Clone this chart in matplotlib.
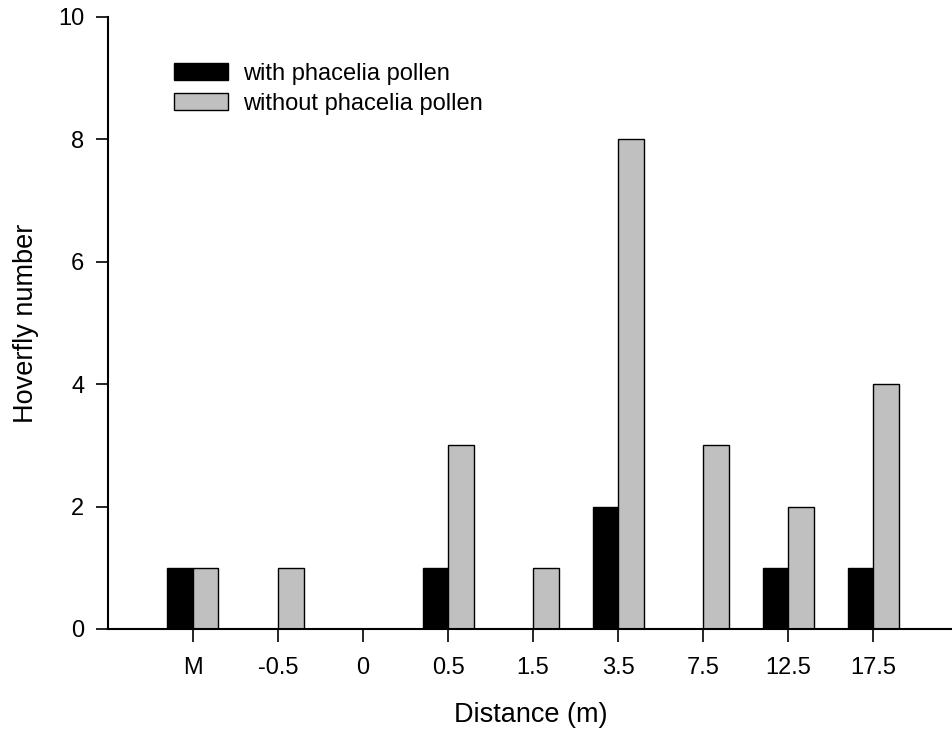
import numpy as np
import matplotlib
import matplotlib.pyplot as plt

matplotlib.rcParams['font.family'] = 'Liberation Sans'

# Data
distances = ["M", "-0.5", "0", "0.5", "1.5", "3.5", "7.5", "12.5", "17.5"]
with_pollen = [1, 0, 0, 1, 0, 2, 0, 1, 1]
without_pollen = [1, 1, 0, 3, 1, 8, 3, 2, 4]

x = np.arange(len(distances))
width = 0.3

fig = plt.figure(figsize=(9.53, 7.33), dpi=100)
ax = fig.add_axes([0.1133, 0.1419, 0.8867, 0.835])

ax.bar(x - width / 2, with_pollen, width, color='black', edgecolor='black',
       linewidth=1, label='with phacelia pollen')
ax.bar(x + width / 2, without_pollen, width, color='#c0c0c0', edgecolor='black',
       linewidth=1, label='without phacelia pollen')

ax.set_xlim(-1, 8.94)
ax.set_ylim(0, 10)
ax.set_xticks(x)
ax.set_xticklabels(distances)
ax.set_yticks(np.arange(0, 11, 2))

for side in ['top', 'right']:
    ax.spines[side].set_visible(False)
ax.spines['left'].set_linewidth(1.5)
ax.spines['bottom'].set_linewidth(1.5)
ax.tick_params(axis='both', direction='out', length=9, width=1.2,
               labelsize=17, pad=8)
ax.tick_params(axis='x', pad=11)

ax.set_xlabel('Distance (m)', fontsize=19.5, labelpad=17)
ax.set_ylabel('Hoverfly number', fontsize=19.5, labelpad=14)

ax.legend(loc='upper left', bbox_to_anchor=(0.078, 0.925), frameon=False,
          fontsize=17, handlelength=2.3, handleheight=0.72, handletextpad=0.62,
          borderpad=0, borderaxespad=0, labelspacing=0.33)

plt.savefig('out.png', dpi=100)
